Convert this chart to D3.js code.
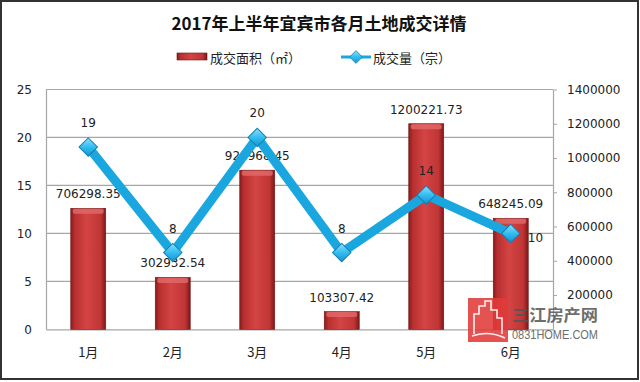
<!DOCTYPE html>
<html><head><meta charset="utf-8">
<script src="https://cdn.jsdelivr.net/npm/d3@7/dist/d3.min.js"></script>
<style>html,body{margin:0;padding:0;background:#fff;}svg{display:block;}</style>
</head><body>
<script>
const months = ["1月","2月","3月","4月","5月","6月"];
const areaValues = [706298.35, 302932.54, 928968.45, 103307.42, 1200221.73, 648245.09];
const countValues = [19, 8, 20, 8, 14, 10];
const leftTicks = [0, 5, 10, 15, 20, 25];
const rightTicks = [200000, 400000, 600000, 800000, 1000000, 1200000, 1400000];
const title = "2017年上半年宜宾市各月土地成交详情";
const legendNames = ["成交面积（㎡）", "成交量（宗）"];

const W = 640, H = 382;
const m = {left: 46, right: 553, top: 89.5, bottom: 329.3};
const svg = d3.select("body").append("svg").attr("width", W).attr("height", H);
const defs = svg.append("defs");
const bg = defs.append("linearGradient").attr("id","barGrad").attr("x1","0").attr("x2","1").attr("y1","0").attr("y2","0");
[[0,"#8a1c1c"],[0.12,"#b83030"],[0.45,"#d44444"],[0.85,"#c03535"],[1,"#7e1818"]].forEach(s=>bg.append("stop").attr("offset",s[0]).attr("stop-color",s[1]));
const dg = defs.append("linearGradient").attr("id","diaGrad").attr("x1","0").attr("x2","1").attr("y1","0").attr("y2","1");
[[0,"#8fe0ff"],[0.5,"#33bdf0"],[1,"#1593cc"]].forEach(s=>dg.append("stop").attr("offset",s[0]).attr("stop-color",s[1]));

svg.append("rect").attr("x",1).attr("y",1).attr("width",637).attr("height",378)
  .attr("fill","#fff").attr("stroke","#333").attr("stroke-width",2);

const x = d3.scaleBand().domain(months).range([m.left, m.right]).paddingInner(0.586).paddingOuter(0.293);
const yL = d3.scaleLinear().domain([0,25]).range([m.bottom, m.top]);
const yR = d3.scaleLinear().domain([0,1400000]).range([m.bottom, m.top]);

// gridlines
svg.append("g").selectAll("line").data(leftTicks.filter(d=>d>0)).join("line")
  .attr("x1", m.left).attr("x2", m.right).attr("y1", d=>yL(d)).attr("y2", d=>yL(d))
  .attr("stroke","#a6a6a6").attr("stroke-width",1.2);

// left axis
const gL = svg.append("g").attr("transform",`translate(${m.left},0)`)
  .call(d3.axisLeft(yL).tickValues(leftTicks).tickSize(0).tickPadding(14));
gL.select(".domain").attr("stroke","#a6a6a6").attr("stroke-width",1.2);
gL.selectAll("text").attr("font-family","DejaVu Sans").attr("font-size",12).attr("fill","#222");

// right axis
const gR = svg.append("g").attr("transform",`translate(${m.right},0)`)
  .call(d3.axisRight(yR).tickValues(rightTicks).tickFormat(d3.format("d")).tickSize(4).tickSizeOuter(0).tickPadding(10));
gR.select(".domain").attr("stroke","#a6a6a6").attr("stroke-width",1.2);
gR.selectAll(".tick line").attr("stroke","#a6a6a6");
gR.selectAll("text").attr("font-family","DejaVu Sans").attr("font-size",12).attr("fill","#222");

// bottom axis
const gB = svg.append("g").attr("transform",`translate(0,${m.bottom})`)
  .call(d3.axisBottom(x).tickSize(0).tickPadding(18));
gB.select(".domain").attr("stroke","#a6a6a6").attr("stroke-width",1.2);
gB.selectAll("text").attr("font-family","Noto Sans CJK SC").attr("font-size",13).attr("fill","#222");

// bars
const bars = svg.append("g");
bars.selectAll("rect.bar").data(areaValues).join("rect").attr("class","bar")
  .attr("x",(d,i)=>x(months[i])).attr("width",x.bandwidth())
  .attr("y",d=>yR(d)).attr("height",d=>m.bottom-yR(d))
  .attr("fill","url(#barGrad)").attr("stroke","#6e1414").attr("stroke-width",0.6);
bars.selectAll("rect.cap").data(areaValues).join("rect").attr("class","cap")
  .attr("x",(d,i)=>x(months[i])+2).attr("width",x.bandwidth()-4)
  .attr("y",d=>yR(d)+0.5).attr("height",5).attr("rx",2)
  .attr("fill","#e26a6a").attr("opacity",0.8);
svg.append("g").selectAll("text").data(areaValues).join("text")
  .attr("x",(d,i)=>x(months[i])+x.bandwidth()/2).attr("y",d=>yR(d)-14)
  .attr("text-anchor","middle").attr("dominant-baseline","central")
  .attr("font-family","DejaVu Sans").attr("font-size",12).attr("fill","#222")
  .text(d=>d3.format(".2f")(d));

// line
const cx = i => x(months[i]) + x.bandwidth()/2;
const line = d3.line().x((d,i)=>cx(i)).y(d=>yL(d));
svg.append("path").datum(countValues).attr("d",line).attr("fill","none")
  .attr("stroke","#1aa7e0").attr("stroke-width",9).attr("stroke-linejoin","round");
svg.append("g").selectAll("rect").data(countValues).join("rect")
  .attr("x",-6.5).attr("y",-6.5).attr("width",13).attr("height",13)
  .attr("transform",(d,i)=>`translate(${cx(i)},${yL(d)}) rotate(45)`)
  .attr("fill","url(#diaGrad)").attr("stroke","#127fb3").attr("stroke-width",1);
svg.append("g").selectAll("text").data(countValues).join("text")
  .attr("x",(d,i)=> i===5 ? cx(i)+17 : cx(i))
  .attr("y",(d,i)=> i===5 ? yL(d)+4.5 : yL(d)-24)
  .attr("text-anchor",(d,i)=> i===5 ? "start" : "middle").attr("dominant-baseline","central")
  .attr("font-family","DejaVu Sans").attr("font-size",12).attr("fill","#222")
  .text(d=>d);

// title
svg.append("text").attr("x",319).attr("y",22).attr("text-anchor","middle").attr("dominant-baseline","central")
  .attr("font-family","Noto Sans CJK SC").attr("font-weight","bold").attr("font-size",17).attr("fill","#111")
  .text(title);

// legend
const lg = svg.append("g");
lg.append("rect").attr("x",177).attr("y",53).attr("width",30).attr("height",7)
  .attr("fill","url(#barGrad)").attr("stroke","#6e1414").attr("stroke-width",0.6);
lg.append("text").attr("x",210).attr("y",57).attr("dominant-baseline","central")
  .attr("font-family","Noto Sans CJK SC").attr("font-size",13).attr("fill","#222").text(legendNames[0]);
lg.append("line").attr("x1",341).attr("x2",371).attr("y1",57).attr("y2",57).attr("stroke","#1aa7e0").attr("stroke-width",3);
lg.append("rect").attr("x",-4.5).attr("y",-4.5).attr("width",9).attr("height",9)
  .attr("transform","translate(356,57) rotate(45)").attr("fill","url(#diaGrad)").attr("stroke","#127fb3").attr("stroke-width",0.8);
lg.append("text").attr("x",373).attr("y",57).attr("dominant-baseline","central")
  .attr("font-family","Noto Sans CJK SC").attr("font-size",13).attr("fill","#222").text(legendNames[1]);

// watermark
const wm = svg.append("g");
wm.append("rect").attr("x",468).attr("y",298).attr("width",40).attr("height",44).attr("fill","#e03a3a").attr("opacity",0.88);
wm.append("path").attr("d","M474,334 L474,314 L479,314 L479,306 L485,306 L485,301 L491,301 L491,310 L497,310 L497,318 L502,318 L502,334 M472,336 Q488,330 505,338")
  .attr("fill","none").attr("stroke","#fff").attr("stroke-width",1.6).attr("opacity",0.9);
wm.append("text").attr("x",512).attr("y",314).attr("dominant-baseline","central")
  .attr("font-family","Noto Sans CJK SC").attr("font-weight","bold").attr("font-size",16).attr("textLength",86).attr("lengthAdjust","spacingAndGlyphs")
  .attr("fill","#555").attr("opacity",0.85).text("三江房产网");
wm.append("text").attr("x",512).attr("y",334).attr("dominant-baseline","central")
  .attr("font-family","Liberation Sans Narrow, Liberation Sans").attr("font-size",13).attr("textLength",86).attr("lengthAdjust","spacingAndGlyphs")
  .attr("fill","#555").attr("opacity",0.85).text("0831HOME.COM");
</script>
</body></html>
